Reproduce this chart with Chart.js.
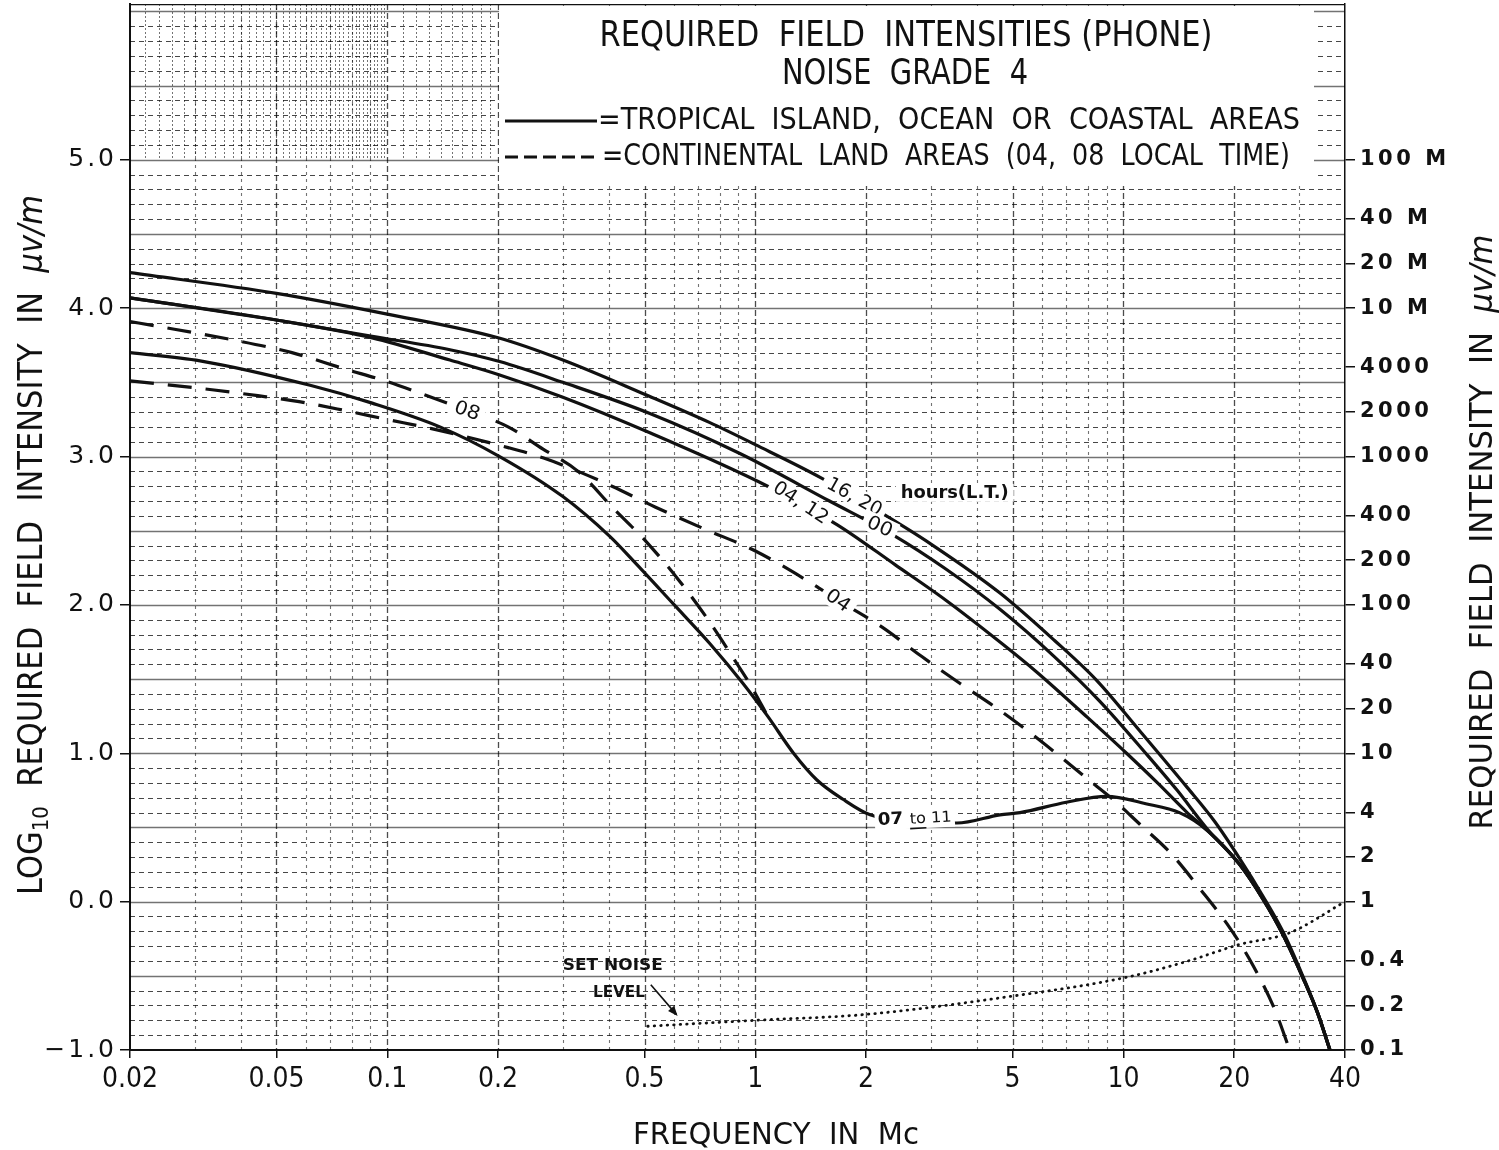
<!DOCTYPE html>
<html>
<head>
<meta charset="utf-8">
<title>Required Field Intensities (Phone) - Noise Grade 4</title>
<script src="https://cdn.jsdelivr.net/npm/chart.js@4.4.1/dist/chart.umd.min.js"></script>
<style>
  html, body { margin: 0; padding: 0; background: #fff; }
  #box { width: 1499px; height: 1150px; }
</style>
</head>
<body>
<div id="box"><canvas id="chart" width="1499" height="1150"></canvas></div>
<script>
// ---- axis ticks -------------------------------------------------------
const xTickValues = [0.02, 0.05, 0.1, 0.2, 0.5, 1, 2, 5, 10, 20, 40];
const xTickLabels = ['0.02', '0.05', '0.1', '0.2', '0.5', '1', '2', '5', '10', '20', '40'];
const leftTickValues = [-1, 0, 1, 2, 3, 4, 5];
const leftTickLabels = ['\u22121.0', '0.0', '1.0', '2.0', '3.0', '4.0', '5.0'];
// right-hand scale in microvolts per metre (M = millivolts)
const rightTickValues = [1e5, 4e4, 2e4, 1e4, 4000, 2000, 1000, 400, 200, 100, 40, 20, 10, 4, 2, 1, 0.4, 0.2, 0.1];
const rightTickLabels = ['100 M', '40 M', '20 M', '10 M', '4000', '2000', '1000', '400', '200', '100',
                         '40', '20', '10', '4', '2', '1', '0.4', '0.2', '0.1'];

// ---- tropical island / ocean / coastal areas (solid) -------------------
const freq1620 = [0.02, 0.05, 0.1, 0.2, 0.3, 0.5, 0.75, 1.0, 1.5, 2.2, 3.0, 4.62, 6.5, 8.47, 11, 14.9, 17.7, 20.7, 23.9, 27.1, 30.7, 33.7, 36.4];
const fi1620   = [4.24, 4.10, 3.96, 3.80, 3.65, 3.42, 3.23, 3.08, 2.86, 2.62, 2.41, 2.08, 1.76, 1.49, 1.16, 0.77, 0.54, 0.29, 0.04, -0.20, -0.50, -0.75, -1.0];

const freq00 = [0.02, 0.05, 0.091, 0.148, 0.202, 0.3, 0.517, 0.908, 1.59, 2.37, 3.3, 4.62, 6.5, 8.63, 11.5, 14.0, 16.9, 20.7, 23.9, 27.1, 30.7, 33.7, 36.4];
const fi00   = [4.07, 3.92, 3.81, 3.72, 3.64, 3.50, 3.29, 3.02, 2.70, 2.47, 2.24, 1.97, 1.65, 1.35, 1.00, 0.75, 0.49, 0.25, 0.02, -0.22, -0.51, -0.75, -1.0];

const freq0412 = [0.02, 0.05, 0.091, 0.148, 0.202, 0.3, 0.517, 1.08, 1.67, 2.4, 3.3, 4.62, 5.8, 8.0, 10.2, 12.5, 14.9, 16.9, 20.7, 23.9, 27.1, 30.7, 33.7, 36.4];
const fi0412   = [4.07, 3.92, 3.80, 3.65, 3.55, 3.40, 3.16, 2.80, 2.54, 2.27, 2.03, 1.75, 1.55, 1.24, 1.00, 0.79, 0.60, 0.48, 0.25, 0.02, -0.22, -0.51, -0.75, -1.0];

const freq0711 = [0.02, 0.031, 0.0617, 0.091, 0.139, 0.202, 0.30, 0.403, 0.465, 0.597, 0.752, 0.926, 1.08, 1.27, 1.47, 1.73, 2.05, 2.7, 3.53, 4.62, 5.24, 7.0, 9.0, 11.5, 14.2, 16.9, 20.7, 23.9, 27.1, 30.7, 33.7, 36.4];
const fi0711   = [3.70, 3.645, 3.48, 3.36, 3.20, 3.00, 2.73, 2.46, 2.30, 2.01, 1.74, 1.47, 1.25, 1.00, 0.82, 0.69, 0.585, 0.54, 0.53, 0.585, 0.60, 0.67, 0.71, 0.66, 0.60, 0.48, 0.25, 0.02, -0.22, -0.51, -0.75, -1.0];

// ---- continental land areas (dashed) -----------------------------------
const freq08 = [0.02, 0.0235, 0.0374, 0.0551, 0.0767, 0.0986, 0.125, 0.165, 0.213, 0.265, 0.33, 0.408, 0.508, 0.618, 0.744, 0.888, 0.97, 1.08];
const fi08   = [3.91, 3.88, 3.79, 3.70, 3.59, 3.51, 3.42, 3.31, 3.20, 3.05, 2.90, 2.66, 2.42, 2.17, 1.90, 1.61, 1.46, 1.25];

const freq04 = [0.02, 0.0334, 0.0445, 0.0576, 0.0767, 0.0998, 0.131, 0.213, 0.266, 0.33, 0.408, 0.534, 0.73, 0.988, 1.37, 1.68, 2.21, 2.84, 3.60, 4.49, 5.5, 6.64, 7.96, 9.36, 11.1, 13.4, 16.1, 19.5, 22.5, 25.8, 28.3];
const fi04   = [3.51, 3.45, 3.41, 3.37, 3.31, 3.25, 3.19, 3.06, 2.99, 2.90, 2.80, 2.66, 2.51, 2.37, 2.17, 2.03, 1.85, 1.65, 1.47, 1.31, 1.15, 0.99, 0.83, 0.69, 0.52, 0.33, 0.09, -0.18, -0.43, -0.73, -1.0];

// ---- set noise level (dotted) ------------------------------------------
const freqNoise = [0.51, 1.0, 2.0, 4.89, 10.2, 15, 20.6, 28.3, 40];
const fiNoise   = [-0.84, -0.80, -0.76, -0.64, -0.51, -0.40, -0.29, -0.21, 0.0];

const pts = (f, v) => f.map((x, i) => ({ x, y: v[i] }));

const SANS = "'DejaVu Sans', 'Liberation Sans', sans-serif";
const NARROW = "'Liberation Sans Narrow', 'DejaVu Sans Condensed', 'Roboto Condensed', 'Liberation Sans', sans-serif";
const INK = '#111';

// text squeezed or stretched to a set width, drawn as a run of pieces
function fitRuns(ctx, runs, cx, cy, width, angle) {
  let natural = 0;
  for (const r of runs) { ctx.font = r.font; r.w = ctx.measureText(r.t).width; natural += r.w; }
  const k = width / natural;
  ctx.save();
  ctx.translate(cx, cy);
  ctx.rotate(angle || 0);
  ctx.scale(k, 1);
  ctx.fillStyle = INK;
  ctx.textAlign = 'left';
  ctx.textBaseline = 'middle';
  let x0 = -natural / 2;
  for (const r of runs) {
    ctx.font = r.font;
    ctx.fillText(r.t, x0, r.dy || 0);
    if (r.underline) { ctx.fillRect(x0, (r.dy || 0) + r.underline, r.w, 1.6); }
    x0 += r.w;
  }
  ctx.restore();
}

// curve tag: rotated text with a white gap behind it
function tag(ctx, text, px, py, deg, font, width, h, bg) {
  ctx.save();
  ctx.translate(px, py);
  ctx.rotate(deg * Math.PI / 180);
  ctx.font = font;
  const w = ctx.measureText(text).width;
  const k = width / w;
  if (bg) { ctx.fillStyle = '#fff'; ctx.fillRect(-width / 2 - 5, -h / 2, width + 10, h); }
  ctx.scale(k, 1);
  ctx.fillStyle = INK;
  ctx.textAlign = 'center';
  ctx.textBaseline = 'middle';
  ctx.fillText(text, 0, 1);
  ctx.restore();
}

// ---- graph-paper ruling and heading block ------------------------------
const paper = {
  id: 'paper',
  beforeDatasetsDraw(chart) {
    const { ctx, chartArea: a, scales: { x, y } } = chart;
    ctx.save();
    ctx.beginPath();
    ctx.rect(a.left, a.top, a.right - a.left, a.bottom - a.top);
    ctx.clip();
    const hLine = (py, x0, x1) => { ctx.beginPath(); ctx.moveTo(x0, py); ctx.lineTo(x1, py); ctx.stroke(); };
    const vLine = (px, y0, y1) => { ctx.beginPath(); ctx.moveTo(px, y0); ctx.lineTo(px, y1); ctx.stroke(); };

    // fine ruling in the upper left band
    const y5 = y.getPixelForValue(5);
    ctx.strokeStyle = 'rgba(0,0,0,0.55)';
    ctx.lineWidth = 1;
    ctx.setLineDash([2, 2]);
    for (let f = 0.022; f < 0.1; f += 0.002) {
      const px = Math.round(x.getPixelForValue(f)) + 0.5;
      vLine(px, a.top, y5);
    }
    for (let f = 0.11; f < 0.2; f += 0.01) {
      const px = Math.round(x.getPixelForValue(f)) + 0.5;
      vLine(px, a.top, y5);
    }

    // tenth rules, heavier every half unit
    for (let k = -9; k <= 60; k++) {
      const py = Math.round(y.getPixelForValue(k / 10)) + 0.5;
      if (k % 5 === 0) {
        ctx.setLineDash([]); ctx.lineWidth = 1.6; ctx.strokeStyle = 'rgba(0,0,0,0.55)';
      } else {
        ctx.setLineDash([5, 4]); ctx.lineWidth = 1.2; ctx.strokeStyle = 'rgba(0,0,0,0.72)';
      }
      hLine(py, a.left, a.right);
    }

    // log-cycle rules
    for (const d of [0.01, 0.1, 1, 10]) {
      for (let m = 1; m <= 9; m++) {
        const f = m * d;
        if (f < 0.0201 || f > 39.9) continue;
        const px = Math.round(x.getPixelForValue(f)) + 0.5;
        if (m === 1 || m === 2 || m === 5) {
          ctx.setLineDash([6, 3]); ctx.lineWidth = 1.3; ctx.strokeStyle = 'rgba(0,0,0,0.7)';
        } else {
          ctx.setLineDash([3, 4]); ctx.lineWidth = 1.1; ctx.strokeStyle = 'rgba(0,0,0,0.55)';
        }
        vLine(px, a.top, a.bottom);
      }
    }

    // frame top edge
    ctx.setLineDash([]);
    ctx.strokeStyle = INK;
    ctx.lineWidth = 1.5;
    hLine(a.top + 0.5, a.left, a.right);

    // clear panel for the heading
    ctx.fillStyle = '#fff';
    ctx.fillRect(x.getPixelForValue(0.2) + 1, a.top + 2, 1313 - x.getPixelForValue(0.2), 180);
    ctx.restore();
  },
  afterDatasetsDraw(chart) {
    const { ctx, scales: { x, y } } = chart;
    const P = (f, v) => [x.getPixelForValue(f), y.getPixelForValue(v)];

    // heading and key
    fitRuns(ctx, [{ t: 'REQUIRED  FIELD  INTENSITIES (PHONE)', font: '35px ' + SANS }], 906, 37, 613);
    fitRuns(ctx, [{ t: 'NOISE  GRADE  4', font: '35px ' + SANS }], 905, 75, 246);
    ctx.save();
    ctx.strokeStyle = INK;
    ctx.lineWidth = 3;
    ctx.beginPath(); ctx.moveTo(505, 121); ctx.lineTo(597, 121); ctx.stroke();
    ctx.setLineDash([13, 6]);
    ctx.beginPath(); ctx.moveTo(505, 157); ctx.lineTo(600, 157); ctx.stroke();
    ctx.restore();
    fitRuns(ctx, [{ t: '=TROPICAL  ISLAND,  OCEAN  OR  COASTAL  AREAS', font: '31px ' + SANS }], 949, 121, 702);
    fitRuns(ctx, [{ t: '=CONTINENTAL  LAND  AREAS  (04,  08  LOCAL  TIME)', font: '31px ' + SANS }], 946, 157, 688);

    // curve tags
    let p;
    p = P(1.86, 2.73); tag(ctx, '16, 20', p[0], p[1], 29, '19px ' + SANS, 60, 20, true);
    p = P(1.33, 2.69); tag(ctx, '04, 12', p[0], p[1], 33, '19px ' + SANS, 62, 20, true);
    p = P(2.18, 2.53); tag(ctx, '00', p[0], p[1], 25, '19px ' + SANS, 26, 20, true);
    p = P(0.165, 3.31); tag(ctx, '08', p[0], p[1], 20, '19px ' + SANS, 26, 20, true);
    p = P(1.68, 2.03); tag(ctx, '04', p[0], p[1], 35, '19px ' + SANS, 26, 20, true);
    p = P(3.48, 2.755); tag(ctx, 'hours(L.T.)', p[0], p[1], 0, 'bold 17px ' + SANS, 108, 18, true);

    p = P(2.71, 0.56);
    ctx.save();
    ctx.fillStyle = '#fff';
    ctx.translate(p[0], p[1]); ctx.rotate(-3 * Math.PI / 180);
    ctx.fillRect(-40, -10, 80, 20);
    ctx.restore();
    fitRuns(ctx, [
      { t: '07 ', font: 'bold 17px ' + SANS },
      { t: 'to', font: '15px ' + SANS, dy: 1, underline: 8 },
      { t: ' 11', font: '15px ' + SANS, dy: 1 }
    ], p[0], p[1], 74, -3 * Math.PI / 180);

    // set noise level note and pointer
    p = P(0.41, -0.43); tag(ctx, 'SET NOISE', p[0], p[1], 0, 'bold 15px ' + SANS, 100, 14, false);
    p = P(0.426, -0.61); tag(ctx, 'LEVEL', p[0], p[1], 0, 'bold 15px ' + SANS, 52, 14, false);
    const a0 = P(0.52, -0.56), a1 = P(0.61, -0.76);
    ctx.save();
    ctx.strokeStyle = INK; ctx.fillStyle = INK; ctx.lineWidth = 1.6;
    ctx.beginPath(); ctx.moveTo(a0[0], a0[1]); ctx.lineTo(a1[0], a1[1]); ctx.stroke();
    const ang = Math.atan2(a1[1] - a0[1], a1[0] - a0[0]);
    ctx.translate(a1[0], a1[1]); ctx.rotate(ang);
    ctx.beginPath(); ctx.moveTo(2, 0); ctx.lineTo(-8, -4); ctx.lineTo(-8, 4); ctx.closePath(); ctx.fill();
    ctx.restore();
  },
  afterDraw(chart) {
    const { ctx } = chart;
    fitRuns(ctx, [
      { t: 'LOG', font: '34px ' + SANS },
      { t: '10', font: '22px ' + SANS, dy: 9 },
      { t: '  REQUIRED  FIELD  INTENSITY  IN  ', font: '34px ' + SANS },
      { t: '\u03BCv/m', font: 'italic 34px ' + SANS }
    ], 33, 545, 700, -Math.PI / 2);
    fitRuns(ctx, [
      { t: 'REQUIRED  FIELD  INTENSITY  IN  ', font: '32px ' + SANS },
      { t: '\u03BCv/m', font: 'italic 32px ' + SANS }
    ], 1484, 532, 595, -Math.PI / 2);
    fitRuns(ctx, [{ t: 'FREQUENCY  IN  Mc', font: '30px ' + SANS }], 776, 1136, 286);
  }
};

// letter-spaced tick labels on the two value axes
const spacedTicks = {
  id: 'spacedTicks',
  afterLayout(chart) {
    for (const [id, sp] of [['y', '3px'], ['y2', '3.5px']]) {
      const s = chart.scales[id];
      if (!s || s.$spaced) continue;
      const orig = s.drawLabels;
      s.drawLabels = function (area) {
        this.ctx.save();
        this.ctx.letterSpacing = sp;
        orig.call(this, area);
        this.ctx.restore();
      };
      s.$spaced = true;
    }
  }
};

// fixed axis bands, no extra room reserved for overhanging labels
const band = size => s => {
  if (s.isHorizontal()) { s.height = size; } else { s.width = size; }
  s.paddingTop = 0; s.paddingBottom = 0; s.paddingLeft = 0; s.paddingRight = 0;
};

const solid = { borderColor: INK, borderWidth: 3.2, pointRadius: 0, fill: false, cubicInterpolationMode: 'monotone' };
const dashed = Object.assign({}, solid, { borderDash: [24, 14] });
const dotted = { borderColor: INK, borderWidth: 2.8, pointRadius: 0, fill: false, borderDash: [0.5, 6], borderCapStyle: 'round', cubicInterpolationMode: 'monotone' };

new Chart(document.getElementById('chart'), {
  type: 'line',
  data: {
    datasets: [
      Object.assign({ label: '16, 20', data: pts(freq1620, fi1620) }, solid),
      Object.assign({ label: '00', data: pts(freq00, fi00) }, solid),
      Object.assign({ label: '04, 12', data: pts(freq0412, fi0412) }, solid),
      Object.assign({ label: '07 to 11', data: pts(freq0711, fi0711) }, solid),
      Object.assign({ label: '08', data: pts(freq08, fi08) }, dashed),
      Object.assign({ label: '04', data: pts(freq04, fi04) }, dashed),
      Object.assign({ label: 'Set noise level', data: pts(freqNoise, fiNoise) }, dotted)
    ]
  },
  options: {
    responsive: false,
    animation: false,
    devicePixelRatio: 1,
    layout: { autoPadding: false, padding: { top: 4, left: 0, right: 0, bottom: 0 } },
    plugins: { legend: { display: false }, tooltip: { enabled: false } },
    scales: {
      x: {
        type: 'logarithmic', position: 'bottom', min: 0.02, max: 40,
        afterBuildTicks: s => { s.ticks = xTickValues.map(v => ({ value: v })); },
        afterFit: band(100),
        ticks: {
          autoSkip: false, maxRotation: 0, minRotation: 0, padding: 5, color: INK,
          font: { family: NARROW, size: 28 },
          callback: (v, i) => xTickLabels[i]
        },
        grid: { display: true, drawOnChartArea: false, drawTicks: true, tickLength: 8, color: INK, lineWidth: 1.5 },
        border: { display: true, color: INK, width: 2 }
      },
      y: {
        type: 'linear', position: 'left', min: -1, max: 6.05,
        afterBuildTicks: s => { s.ticks = leftTickValues.map(v => ({ value: v })); },
        afterFit: band(130),
        ticks: {
          autoSkip: false, padding: 3, color: INK,
          font: { family: SANS, size: 25 },
          callback: (v, i) => leftTickLabels[i]
        },
        grid: { display: true, drawOnChartArea: false, drawTicks: true, tickLength: 10, color: INK, lineWidth: 1.5 },
        border: { display: true, color: INK, width: 2 }
      },
      y2: {
        type: 'linear', position: 'right', min: -1, max: 6.05,
        afterBuildTicks: s => { s.ticks = rightTickValues.map(v => ({ value: Math.log10(v) })); },
        afterFit: band(154),
        ticks: {
          autoSkip: false, padding: 5, color: INK,
          font: { family: SANS, size: 21, weight: 'bold' },
          callback: (v, i) => rightTickLabels[i]
        },
        grid: { display: true, drawOnChartArea: false, drawTicks: true, tickLength: 10, color: INK, lineWidth: 1.5 },
        border: { display: true, color: INK, width: 1.5 }
      }
    }
  },
  plugins: [paper, spacedTicks]
});
</script>
</body>
</html>
